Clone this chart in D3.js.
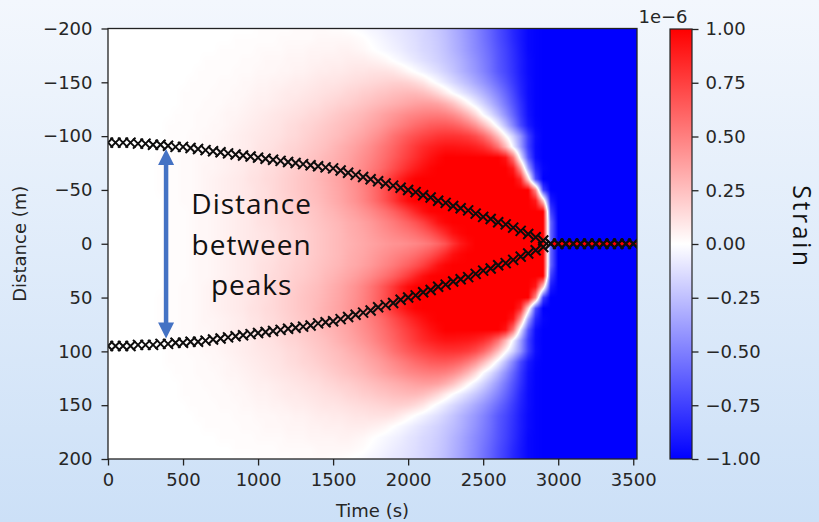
<!DOCTYPE html>
<html>
<head>
<meta charset="utf-8">
<script src="https://cdn.jsdelivr.net/npm/d3@7"></script>
<style>
  body { margin: 0; }
  svg { display: block; }
</style>
</head>
<body>
<script>
// sample times of the strain grid (s), one column each
var times = [0,50,100,150,200,250,300,350,400,450,500,550,600,650,700,750,800,850,900,950,
  1000,1050,1100,1150,1200,1250,1300,1350,1400,1450,1500,1550,1600,1650,1700,1750,1800,1850,1900,1950,
  2000,2050,2100,2150,2200,2250,2300,2350,2400,2450,2500,2550,2600,2650,2700,2750,2800,2850,2900,2950,
  3000,3050,3100,3150,3200,3250,3300,3350,3400,3450,3500];

// |distance| of each row (m); the field is symmetric about 0
var distances = [0,10,20,30,40,50,60,70,80,90,100,110,120,130,140,150,160,170,180,190,200];

// strain in hundredths of 1e-6, one row per distance
var strain0   = [0,0,0,0,0,0,0,0,1,1,1,2,3,3,4,5,6,7,8,9,10,11,12,14,15,17,18,20,22,24,26,28,30,32,34,36,38,40,42,43,45,47,50,54,60,68,80,90,96,100,100,100,100,100,100,100,100,100,100,-60,-100,-100,-100,-100,-100,-100,-100,-100,-100,-100,-100];
var strain10  = [0,0,0,0,0,0,0,0,1,1,1,2,3,3,4,5,6,7,8,9,10,11,12,14,15,17,18,20,22,24,26,28,31,33,35,38,41,44,47,50,53,57,62,68,76,85,94,98,100,100,100,100,100,100,100,100,100,100,100,-60,-100,-100,-100,-100,-100,-100,-100,-100,-100,-100,-100];
var strain20  = [0,0,0,0,0,0,0,0,1,1,1,2,3,3,4,5,6,7,8,9,11,12,13,15,16,18,19,21,23,25,27,29,32,34,37,40,44,48,52,57,62,68,75,84,93,98,100,100,100,100,100,100,100,100,100,100,100,100,100,-60,-100,-100,-100,-100,-100,-100,-100,-100,-100,-100,-100];
var strain30  = [0,0,0,0,0,0,0,0,1,1,1,2,3,3,4,5,6,7,8,9,11,12,14,15,17,19,20,22,24,27,29,32,35,38,42,46,51,56,62,69,77,86,94,99,100,100,100,100,100,100,100,100,100,100,100,100,100,100,100,-75,-100,-100,-100,-100,-100,-100,-100,-100,-100,-100,-100];
var strain40  = [0,0,0,0,0,0,0,0,1,1,2,2,3,4,5,6,7,8,9,10,12,13,15,16,18,20,22,24,26,29,32,35,39,43,48,54,61,69,78,88,96,100,100,100,100,100,100,100,100,100,100,100,100,100,100,100,100,90,20,-90,-100,-100,-100,-100,-100,-100,-100,-100,-100,-100,-100];
var strain50  = [0,0,0,0,0,0,0,1,1,1,2,2,3,4,5,6,7,8,9,10,12,13,15,17,19,21,23,25,27,30,33,36,40,44,49,55,62,70,79,88,95,99,100,100,100,100,100,100,100,100,100,100,100,100,100,100,100,45,-75,-100,-100,-100,-100,-100,-100,-100,-100,-100,-100,-100,-100];
var strain60  = [0,0,0,0,0,0,0,1,1,1,2,2,3,4,5,6,7,8,9,11,12,14,15,17,19,21,23,25,28,31,34,37,41,45,50,56,63,71,80,88,95,99,100,100,100,100,100,100,100,100,100,100,100,100,100,85,15,-70,-100,-100,-100,-100,-100,-100,-100,-100,-100,-100,-100,-100,-100];
var strain70  = [0,0,0,0,0,0,0,1,1,1,2,2,3,4,4,5,6,7,8,10,11,13,14,16,18,20,22,24,27,29,32,35,38,42,46,51,56,62,69,76,83,89,94,98,100,100,100,100,100,100,100,100,100,100,90,40,-35,-85,-98,-100,-100,-100,-100,-100,-100,-100,-100,-100,-100,-100,-100];
var strain80  = [0,0,0,0,0,0,0,1,1,1,2,2,3,3,4,5,6,7,8,9,11,12,14,15,17,19,21,23,25,28,30,33,36,40,44,48,53,58,64,70,76,82,88,93,97,100,100,100,100,100,100,100,100,92,55,-10,-65,-95,-100,-100,-100,-100,-100,-100,-100,-100,-100,-100,-100,-100,-100];
var strain90  = [0,0,0,0,0,0,0,0,1,1,1,2,2,3,4,4,5,6,7,8,10,11,12,14,16,17,19,21,23,25,28,31,34,37,41,45,50,55,60,66,72,78,83,87,90,92,92,91,90,87,82,72,55,28,-5,-38,-75,-96,-100,-100,-100,-100,-100,-100,-100,-100,-100,-100,-100,-100,-100];
var strain100 = [0,0,0,0,0,0,0,0,1,1,1,2,2,3,3,4,5,6,7,8,9,10,11,12,14,15,17,19,21,23,25,27,30,33,36,40,44,49,55,60,65,69,73,76,79,80,80,79,76,70,60,45,25,2,-18,-42,-75,-95,-100,-100,-100,-100,-100,-100,-100,-100,-100,-100,-100,-100,-100];
var strain110 = [0,0,0,0,0,0,0,0,1,1,1,1,2,2,3,3,4,5,6,7,8,9,10,11,13,14,16,17,19,21,23,25,27,29,32,35,38,42,46,50,54,58,61,64,65,65,63,59,52,42,28,12,-6,-26,-48,-72,-90,-98,-100,-100,-100,-100,-100,-100,-100,-100,-100,-100,-100,-100,-100];
var strain120 = [0,0,0,0,0,0,0,0,0,1,1,1,2,2,2,3,4,4,5,6,7,8,9,10,11,12,13,15,16,18,20,22,24,26,28,31,34,37,40,43,46,48,50,51,51,49,45,38,28,15,-1,-13,-27,-43,-60,-78,-93,-99,-100,-100,-100,-100,-100,-100,-100,-100,-100,-100,-100,-100,-100];
var strain130 = [0,0,0,0,0,0,0,0,0,0,1,1,1,2,2,2,3,3,4,5,6,6,7,8,9,10,11,12,13,15,16,18,19,21,23,25,27,29,31,33,35,37,38,38,36,31,24,14,3,-7,-17,-28,-40,-53,-67,-81,-94,-99,-100,-100,-100,-100,-100,-100,-100,-100,-100,-100,-100,-100,-100];
var strain140 = [0,0,0,0,0,0,0,0,0,0,1,1,1,1,2,2,2,3,3,4,5,5,6,7,8,8,9,10,11,12,13,14,16,17,19,20,22,23,25,26,27,27,25,21,15,7,-1,-8,-15,-22,-30,-39,-49,-60,-72,-85,-95,-99,-100,-100,-100,-100,-100,-100,-100,-100,-100,-100,-100,-100,-100];
var strain150 = [0,0,0,0,0,0,0,0,0,0,0,1,1,1,1,2,2,2,3,3,4,4,5,5,6,7,7,8,9,10,10,11,12,13,14,15,16,17,18,18,17,14,10,3,-3,-9,-15,-21,-27,-34,-41,-49,-58,-67,-77,-87,-95,-99,-100,-100,-100,-100,-100,-100,-100,-100,-100,-100,-100,-100,-100];
var strain160 = [0,0,0,0,0,0,0,0,0,0,0,0,1,1,1,1,1,2,2,2,3,3,3,4,4,5,5,6,7,7,8,8,9,10,10,11,11,11,10,7,3,-1,-5,-9,-13,-18,-23,-29,-35,-41,-48,-56,-65,-72,-80,-89,-96,-99,-100,-100,-100,-100,-100,-100,-100,-100,-100,-100,-100,-100,-100];
var strain170 = [0,0,0,0,0,0,0,0,0,0,0,0,0,1,1,1,1,1,2,2,2,3,3,3,4,4,4,5,5,6,6,6,7,7,7,6,5,3,0,-3,-6,-9,-12,-15,-18,-22,-26,-31,-37,-43,-50,-57,-66,-73,-81,-89,-96,-99,-100,-100,-100,-100,-100,-100,-100,-100,-100,-100,-100,-100,-100];
var strain180 = [0,0,0,0,0,0,0,0,0,0,0,0,0,0,0,1,1,1,1,1,2,2,2,2,3,3,3,4,4,4,4,5,5,4,3,1,-1,-3,-5,-7,-10,-12,-15,-17,-20,-24,-29,-34,-40,-46,-52,-59,-67,-74,-82,-90,-97,-99,-100,-100,-100,-100,-100,-100,-100,-100,-100,-100,-100,-100,-100];
var strain190 = [0,0,0,0,0,0,0,0,0,0,0,0,0,0,0,0,0,1,1,1,1,1,1,2,2,2,2,2,3,3,3,3,3,2,1,-1,-3,-5,-7,-9,-11,-13,-16,-18,-21,-25,-30,-35,-41,-47,-54,-61,-69,-76,-84,-91,-97,-99,-100,-100,-100,-100,-100,-100,-100,-100,-100,-100,-100,-100,-100];
var strain200 = [0,0,0,0,0,0,0,0,0,0,0,0,0,0,0,0,0,0,0,0,1,1,1,1,1,2,2,2,2,2,1,1,0,-1,-2,-4,-5,-7,-9,-10,-12,-14,-16,-19,-22,-26,-31,-36,-42,-48,-55,-62,-70,-77,-85,-91,-97,-99,-100,-100,-100,-100,-100,-100,-100,-100,-100,-100,-100,-100,-100];
var strainRows = [strain0, strain10, strain20, strain30, strain40, strain50, strain60, strain70, strain80, strain90, strain100,
  strain110, strain120, strain130, strain140, strain150, strain160, strain170, strain180, strain190, strain200];

// peak positions (m), one per sample time
var upperPeak = [-94,-94,-94,-94,-93,-93,-92,-92,-91,-90,-90,-89,-88,-87,-86,-85,-84,-83,-82,-81,-80,-79,-78,-77,-76,-75,-74,-73,-72,-71,-70,-68,-66,-64,-62,-60,-58,-56,-54,-52,-50,-48,-45,-43,-40,-38,-35,-33,-31,-28,-25,-23,-20,-18,-15,-12,-9,-6,-3,0,0,0,0,0,0,0,0,0,0,0,0];
var lowerPeak = [95,95,95,95,94,94,94,93,93,92,92,91,91,90,89,88,87,86,85,84,83,82,81,80,79,78,77,76,74,73,72,70,68,66,64,62,59,57,55,52,50,48,45,43,40,38,35,33,31,28,25,23,20,18,15,12,9,6,3,0,0,0,0,0,0,0,0,0,0,0,0];

var xTicks = [0,500,1000,1500,2000,2500,3000,3500];
var yTicks = [-200,-150,-100,-50,0,50,100,150,200];
var cbTicks = [1,0.75,0.5,0.25,0,-0.25,-0.5,-0.75,-1];

// annotation
var arrowTime = 387, arrowFrom = -88, arrowTo = 88;
var noteTime = 957;
var noteLines = [["Distance", -28], ["between", 10], ["peaks", 48]];

var width = 819, height = 522;
var plot = {left: 108, right: 637, top: 28.5, bottom: 459};

var x = d3.scaleLinear().domain([0, 3525]).range([plot.left, plot.right]);
var y = d3.scaleLinear().domain([-200, 200]).range([plot.top, plot.bottom]);
var cb = d3.scaleLinear().domain([-1, 1]).range([459, 29]);
var bwr = d3.scaleLinear().domain([-1, 0, 1]).range(["#0000ff", "#ffffff", "#ff0000"]).clamp(true);

var svg = d3.select("body").append("svg")
    .attr("width", width)
    .attr("height", height);

var defs = svg.append("defs");
var bg = defs.append("linearGradient").attr("id", "bg")
    .attr("x1", 0).attr("y1", 0).attr("x2", 0).attr("y2", 1);
bg.append("stop").attr("offset", "0%").attr("stop-color", "#f3f7fd");
bg.append("stop").attr("offset", "100%").attr("stop-color", "#cce0f7");

defs.append("clipPath").attr("id", "clip")
  .append("rect")
    .attr("x", plot.left).attr("y", plot.top)
    .attr("width", plot.right - plot.left).attr("height", plot.bottom - plot.top);

svg.append("rect").attr("width", width).attr("height", height).attr("fill", "url(#bg)");

// ---- heat map: grid values blended bilinearly (in value space, like imshow), then coloured
function strainAt(t, d) {
  var fi = Math.max(0, Math.min(times.length - 1, (t - times[0]) / (times[1] - times[0])));
  var fj = Math.max(0, Math.min(distances.length - 1, Math.abs(d) / (distances[1] - distances[0])));
  var i0 = Math.min(Math.floor(fi), times.length - 2), j0 = Math.min(Math.floor(fj), distances.length - 2);
  var u = fi - i0, w = fj - j0;
  var a = strainRows[j0], b = strainRows[j0 + 1];
  var top = a[i0] * (1 - u) + a[i0 + 1] * u;
  var bot = b[i0] * (1 - u) + b[i0 + 1] * u;
  return (top * (1 - w) + bot * w) / 100;
}

var pw = Math.round(plot.right - plot.left), ph = Math.round(plot.bottom - plot.top);
var canvas = document.createElement("canvas");
canvas.width = pw;
canvas.height = ph;
var ctx = canvas.getContext("2d");
var img = ctx.createImageData(pw, ph);
for (var py = 0; py < ph; py++) {
  var d = y.invert(plot.top + (py + 0.5) * (plot.bottom - plot.top) / ph);
  for (var px = 0; px < pw; px++) {
    var t = x.invert(plot.left + (px + 0.5) * (plot.right - plot.left) / pw);
    var c = d3.rgb(bwr(strainAt(t, d)));
    var p = (py * pw + px) * 4;
    img.data[p] = c.r; img.data[p + 1] = c.g; img.data[p + 2] = c.b; img.data[p + 3] = 255;
  }
}
ctx.putImageData(img, 0, 0);

var gPlot = svg.append("g").attr("clip-path", "url(#clip)");
gPlot.append("image")
    .attr("href", canvas.toDataURL())
    .attr("preserveAspectRatio", "none")
    .attr("x", plot.left).attr("y", plot.top)
    .attr("width", plot.right - plot.left)
    .attr("height", plot.bottom - plot.top);

// thin positive strip along the merged peak
var merged = times.filter(function(t, i) { return upperPeak[i] === 0 && lowerPeak[i] === 0; });
gPlot.append("line")
    .attr("x1", x(merged[0])).attr("x2", x(3525))
    .attr("y1", y(0)).attr("y2", y(0))
    .attr("stroke", "#ff0000").attr("stroke-width", 4);

// peak markers
var marker = "M-5,-5L5,5M-5,5L5,-5";
[upperPeak, lowerPeak].forEach(function(peaks) {
  gPlot.append("g").selectAll("path")
    .data(times)
    .enter().append("path")
      .attr("d", marker)
      .attr("transform", function(t, i) { return "translate(" + x(t) + "," + y(peaks[i]) + ")"; })
      .attr("fill", "none")
      .attr("stroke", "#0d0d0d")
      .attr("stroke-width", 2);
});

// frame
svg.append("rect")
    .attr("x", plot.left).attr("y", plot.top)
    .attr("width", plot.right - plot.left).attr("height", plot.bottom - plot.top)
    .attr("fill", "none").attr("stroke", "#222").attr("stroke-width", 1.3);

// axes
var tickFont = function(g) {
  g.select(".domain").remove();
  g.selectAll(".tick line").attr("stroke", "#222").attr("stroke-width", 1.3);
  g.selectAll(".tick text").attr("fill", "#262626")
    .style("font-family", "DejaVu Sans").style("font-size", "18px");
};

svg.append("g")
    .attr("transform", "translate(0," + plot.bottom + ")")
    .call(d3.axisBottom(x).tickValues(xTicks).tickSize(6.5).tickPadding(8).tickFormat(d3.format("d")))
    .call(tickFont);

svg.append("g")
    .attr("transform", "translate(" + plot.left + ",0)")
    .call(d3.axisLeft(y).tickValues(yTicks).tickSize(6.5).tickPadding(9).tickFormat(d3.format("d")))
    .call(tickFont);

svg.append("text")
    .attr("x", (plot.left + plot.right) / 2).attr("y", 517)
    .attr("text-anchor", "middle")
    .attr("fill", "#262626")
    .style("font-family", "DejaVu Sans").style("font-size", "18px")
    .text("Time (s)");

svg.append("text")
    .attr("transform", "translate(25.5," + ((plot.top + plot.bottom) / 2) + ") rotate(-90)")
    .attr("text-anchor", "middle")
    .attr("fill", "#262626")
    .style("font-family", "DejaVu Sans").style("font-size", "18px")
    .text("Distance (m)");

// ---- colour bar
var cbLeft = 670, cbRight = 692;
var cbGrad = defs.append("linearGradient").attr("id", "cbgrad")
    .attr("x1", 0).attr("y1", 1).attr("x2", 0).attr("y2", 0);
[-1, 0, 1].forEach(function(v) {
  cbGrad.append("stop").attr("offset", ((v + 1) / 2 * 100) + "%").attr("stop-color", bwr(v));
});
svg.append("rect")
    .attr("x", cbLeft).attr("y", cb(1))
    .attr("width", cbRight - cbLeft).attr("height", cb(-1) - cb(1))
    .attr("fill", "url(#cbgrad)")
    .attr("stroke", "#222").attr("stroke-width", 1.2);

svg.append("g")
    .attr("transform", "translate(" + cbRight + ",0)")
    .call(d3.axisRight(cb).tickValues(cbTicks).tickSize(6.5).tickPadding(7).tickFormat(d3.format(".2f")))
    .call(tickFont);

svg.append("text")
    .attr("x", 638.5).attr("y", 23)
    .attr("fill", "#262626")
    .style("font-family", "DejaVu Sans").style("font-size", "18px")
    .text("1e\u22126");

svg.append("text")
    .attr("transform", "translate(793,227) rotate(90)")
    .attr("text-anchor", "middle")
    .attr("fill", "#111")
    .style("font-family", "Open Sans").style("font-size", "25px")
    .style("letter-spacing", "2.5px")
    .text("Strain");

// ---- annotation arrow and note
var blue = "#4472c4";
var ax = x(arrowTime), ay0 = y(arrowFrom), ay1 = y(arrowTo), head = 16, halfW = 8;
svg.append("line")
    .attr("x1", ax).attr("x2", ax)
    .attr("y1", ay0 + head - 1).attr("y2", ay1 - head + 1)
    .attr("stroke", blue).attr("stroke-width", 4.5);
svg.append("path")
    .attr("d", "M" + ax + "," + ay0 + "L" + (ax + halfW) + "," + (ay0 + head) + "L" + (ax - halfW) + "," + (ay0 + head) + "Z" +
               "M" + ax + "," + ay1 + "L" + (ax + halfW) + "," + (ay1 - head) + "L" + (ax - halfW) + "," + (ay1 - head) + "Z")
    .attr("fill", blue);

svg.append("g").selectAll("text")
  .data(noteLines)
  .enter().append("text")
    .attr("x", x(noteTime))
    .attr("y", function(d) { return y(d[1]); })
    .attr("text-anchor", "middle")
    .attr("fill", "#111")
    .style("font-family", "Open Sans").style("font-size", "28px")
    .style("letter-spacing", "1px")
    .text(function(d) { return d[0]; });
</script>
</body>
</html>
